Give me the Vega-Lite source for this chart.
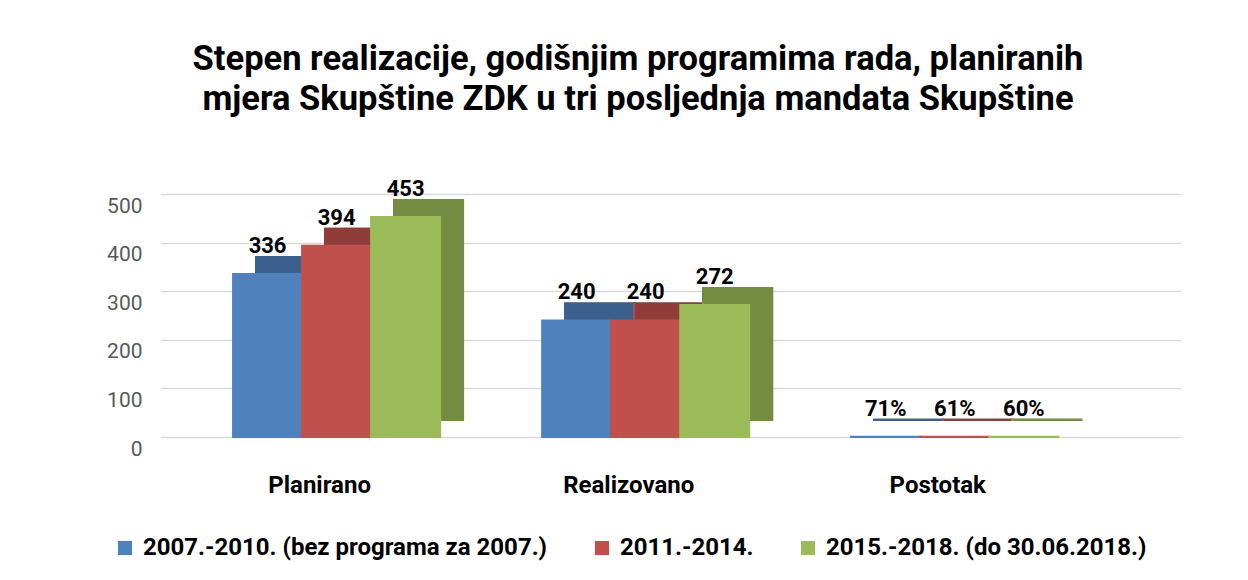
{
  "$schema": "https://vega.github.io/schema/vega-lite/v6.json",
  "width": 1020,
  "height": 267,
  "padding": {"left": 106, "top": 41, "right": 10, "bottom": 5},
  "background": "white",
  "config": {"view": {"stroke": null}},
  "title": {
    "text": ["Stepen realizacije, godišnjim programima rada, planiranih", "mjera Skupštine ZDK u tri posljednja mandata Skupštine"],
    "font": "Roboto",
    "fontSize": 34.5,
    "fontWeight": "bold",
    "color": "#000000",
    "lineHeight": 40,
    "anchor": "middle",
    "dx": -33,
    "offset": 53
  },
  "data": {
    "values": [
      {"cat": "Planirano", "series": "2007.-2010. (bez programa za 2007.)", "value": 336, "label": "336"},
      {"cat": "Planirano", "series": "2011.-2014.", "value": 394, "label": "394"},
      {"cat": "Planirano", "series": "2015.-2018. (do 30.06.2018.)", "value": 453, "label": "453"},
      {"cat": "Realizovano", "series": "2007.-2010. (bez programa za 2007.)", "value": 240, "label": "240"},
      {"cat": "Realizovano", "series": "2011.-2014.", "value": 240, "label": "240"},
      {"cat": "Realizovano", "series": "2015.-2018. (do 30.06.2018.)", "value": 272, "label": "272"},
      {"cat": "Postotak", "series": "2007.-2010. (bez programa za 2007.)", "value": 0.71, "label": "71%"},
      {"cat": "Postotak", "series": "2011.-2014.", "value": 0.61, "label": "61%"},
      {"cat": "Postotak", "series": "2015.-2018. (do 30.06.2018.)", "value": 0.6, "label": "60%"}
    ]
  },
  "encoding": {
    "x": {
      "field": "cat",
      "type": "nominal",
      "sort": ["Planirano", "Realizovano", "Postotak"],
      "scale": {"paddingInner": 0.33, "paddingOuter": 0.315, "align": 0.37},
      "axis": {
        "title": null,
        "labelAngle": 0,
        "labelFont": "Roboto",
        "labelFontSize": 24,
        "labelFontWeight": "bold",
        "labelColor": "#000000",
        "labelPadding": 36,
        "labelOffset": -17,
        "domain": false,
        "ticks": false
      }
    },
    "y": {
      "field": "value",
      "type": "quantitative",
      "scale": {"domain": [0, 550], "nice": false},
      "axis": {
        "title": null,
        "values": [0, 100, 200, 300, 400, 500],
        "grid": true,
        "gridColor": "#d9d9d9",
        "gridWidth": 1.5,
        "domain": false,
        "ticks": false,
        "labelFont": "Roboto",
        "labelFontSize": 21,
        "labelColor": "#595959",
        "labelPadding": 19,
        "labelOffset": 12
      }
    },
    "color": {
      "field": "series",
      "type": "nominal",
      "scale": {
        "domain": ["2007.-2010. (bez programa za 2007.)", "2011.-2014.", "2015.-2018. (do 30.06.2018.)"],
        "range": ["#4F81BD", "#C0504D", "#9BBB59"]
      },
      "legend": {
        "title": null,
        "orient": "none",
        "direction": "horizontal",
        "legendX": -48,
        "legendY": 366,
        "symbolType": "square",
        "symbolSize": 200,
        "symbolStrokeWidth": 0,
        "symbolOpacity": 1,
        "labelFont": "Roboto",
        "labelFontSize": 24,
        "labelFontWeight": "bold",
        "labelColor": "#000000",
        "labelLimit": 600,
        "columnPadding": 42,
        "labelOffset": 6
      }
    }
  },
  "layer": [
    {
      "encoding": {
        "xOffset": {
          "field": "series",
          "type": "nominal",
          "sort": ["2007.-2010. (bez programa za 2007.)", "2011.-2014.", "2015.-2018. (do 30.06.2018.)"],
          "scale": {"paddingInner": 0, "paddingOuter": 0, "range": [23, 230]}
        }
      },
      "layer": [
        {
          "mark": {"type": "bar", "yOffset": -17, "color": "#000000", "stroke": "#000000", "strokeWidth": 2},
          "encoding": {"color": {"value": "#000000"}}
        },
        {
          "mark": {"type": "bar", "yOffset": -17, "opacity": 0.75, "strokeWidth": 2},
          "encoding": {
            "stroke": {
              "field": "series",
              "type": "nominal",
              "scale": {
                "domain": ["2007.-2010. (bez programa za 2007.)", "2011.-2014.", "2015.-2018. (do 30.06.2018.)"],
                "range": ["#4F81BD", "#C0504D", "#9BBB59"]
              },
              "legend": null
            }
          }
        }
      ]
    },
    {
      "encoding": {
        "xOffset": {
          "field": "series",
          "type": "nominal",
          "sort": ["2007.-2010. (bez programa za 2007.)", "2011.-2014.", "2015.-2018. (do 30.06.2018.)"],
          "scale": {"paddingInner": 0, "paddingOuter": 0}
        }
      },
      "layer": [
        {
          "mark": {"type": "bar", "strokeWidth": 2},
          "encoding": {
            "stroke": {
              "field": "series",
              "type": "nominal",
              "scale": {
                "domain": ["2007.-2010. (bez programa za 2007.)", "2011.-2014.", "2015.-2018. (do 30.06.2018.)"],
                "range": ["#4F81BD", "#C0504D", "#9BBB59"]
              },
              "legend": null
            }
          }
        },
        {
          "mark": {"type": "text", "font": "Roboto", "fontSize": 22, "fontWeight": "bold", "baseline": "alphabetic", "dy": -21},
          "encoding": {
            "color": {"value": "#000000"},
            "text": {"field": "label"}
          }
        }
      ]
    }
  ],
  "resolve": {"scale": {"xOffset": "independent"}}
}
